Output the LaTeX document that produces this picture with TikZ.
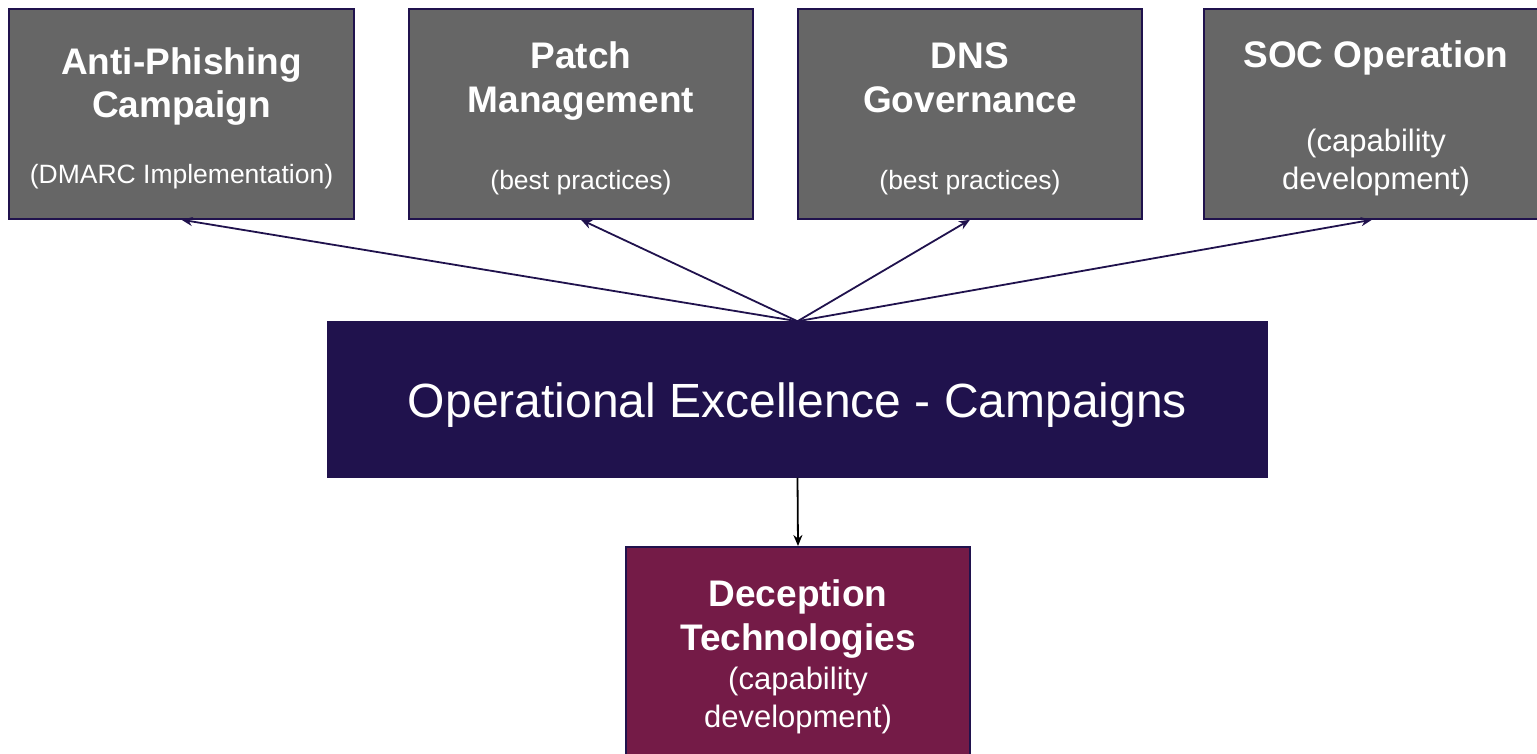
\documentclass[tikz,border=0pt]{standalone}
\usepackage{fontspec}
\setmainfont{Liberation Sans}
\usetikzlibrary{arrows.meta}
\definecolor{navy}{HTML}{20124D}
\definecolor{boxgray}{HTML}{666666}
\definecolor{wine}{HTML}{741B47}
\tikzset{
  topbox/.style={draw=navy, line width=1.5pt, fill=boxgray},
  mainbox/.style={draw=navy, line width=1.5pt, fill=navy},
  decobox/.style={draw=navy, line width=1.5pt, fill=wine},
  ttl/.style={text=white, font=\fontsize{37}{41}\selectfont\bfseries, anchor=base, inner sep=0pt},
  sub/.style={text=white, font=\fontsize{26.5}{30}\selectfont, anchor=base, inner sep=0pt},
  subl/.style={text=white, font=\fontsize{31}{35}\selectfont, anchor=base, inner sep=0pt},
  big/.style={text=white, font=\fontsize{48}{52}\selectfont, anchor=base, inner sep=0pt},
  conn/.style={draw=navy, line width=1.8pt, -{Stealth[length=11pt,width=9pt]}},
  connb/.style={draw=black, line width=1.8pt, -{Stealth[length=11pt,width=9pt]}}
}
\begin{document}
\begin{tikzpicture}[x=1pt,y=-1pt]
\useasboundingbox (0,0) rectangle (1537,754);
\fill[white] (0,0) rectangle (1537,754);
% boxes
\node[topbox, minimum width=345, minimum height=210, inner sep=0pt] (b1) at (181.5,114) {};
\node[topbox, minimum width=344, minimum height=210, inner sep=0pt] (b2) at (581,114) {};
\node[topbox, minimum width=344, minimum height=210, inner sep=0pt] (b3) at (970,114) {};
\node[topbox, minimum width=345, minimum height=210, inner sep=0pt] (b4) at (1376.5,114) {};
\node[mainbox, minimum width=939, minimum height=155, inner sep=0pt] (m) at (797.5,399.5) {};
\node[decobox, minimum width=344, minimum height=230, inner sep=0pt, anchor=north] (d) at (798,546) {};
% texts
\node[ttl] (t1a) at (181.5,75) {Anti-Phishing};
\node[ttl] (t1b) at (181.5,118) {Campaign};
\node[sub] (t1c) at (181.5,184) {(DMARC Implementation)};
\node[ttl] (t2a) at (581,69) {Patch};
\node[ttl] (t2b) at (581,113) {Management};
\node[sub] (t2c) at (581,190) {(best practices)};
\node[ttl] (t3a) at (970,69) {DNS};
\node[ttl] (t3b) at (970,113) {Governance};
\node[sub] (t3c) at (970,190) {(best practices)};
\node[ttl] (t4a) at (1376,68) {SOC Operation};
\node[subl] (t4b) at (1376,152) {(capability};
\node[subl] (t4c) at (1376,190) {development)};
\node[big] (mt) at (797.5,417) {Operational Excellence - Campaigns};
\node[ttl] (dt1) at (798,606) {Deception};
\node[ttl] (dt2) at (798,650) {Technologies};
\node[subl] (dt3) at (798,689) {(capability};
\node[subl] (dt4) at (798,727) {development)};
% connectors
\coordinate (hub) at (m.north);
\draw[conn] (hub) -- (b1.south);
\draw[conn] (hub) -- (b2.south);
\draw[conn] (hub) -- (b3.south);
\draw[conn] (hub) -- ([xshift=-4.5pt]b4.south);
\draw[connb] (m.south) -- (d.north);
\end{tikzpicture}
\end{document}
